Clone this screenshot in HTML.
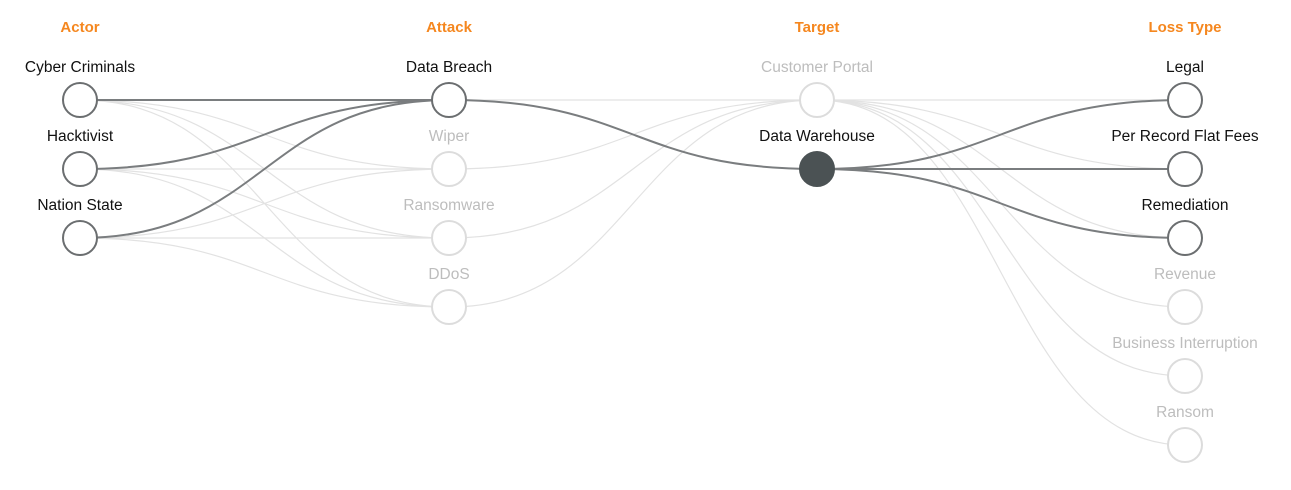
<!DOCTYPE html>
<html><head><meta charset="utf-8"><style>
html,body{margin:0;padding:0;background:#fff;}
svg{display:block;font-family:"Liberation Sans",sans-serif;}
</style></head><body>
<svg id="chart" width="1291" height="490"></svg>
<script>
const columns = ["Actor","Attack","Target","Loss Type"];
const actorNodes = ["Cyber Criminals","Hacktivist","Nation State"];
const attackNodes = ["Data Breach","Wiper","Ransomware","DDoS"];
const targetNodes = ["Customer Portal","Data Warehouse"];
const lossNodes = ["Legal","Per Record Flat Fees","Remediation","Revenue","Business Interruption","Ransom"];
const activeNodes = ["Cyber Criminals","Hacktivist","Nation State","Data Breach","Data Warehouse","Legal","Per Record Flat Fees","Remediation"];
const selectedNode = "Data Warehouse";
// links: [sourceColumn, sourceIndex, targetIndex, highlighted]
const linkSources = [0,0,0,0, 0,0,0,0, 0,0,0,0, 1,1,1,1,1, 2,2,2,2,2,2, 2,2,2];
const linkFrom =    [0,0,0,0, 1,1,1,1, 2,2,2,2, 0,1,2,3,0, 0,0,0,0,0,0, 1,1,1];
const linkTo =      [0,1,2,3, 0,1,2,3, 0,1,2,3, 0,0,0,0,1, 0,1,2,3,4,5, 0,1,2];
const linkHot =     [1,0,0,0, 1,0,0,0, 1,0,0,0, 0,0,0,0,1, 0,0,0,0,0,0, 1,1,1];

const svg = document.getElementById('chart');
const NS = 'http://www.w3.org/2000/svg';
const colX = [80,449,817,1185];
const y0 = 100, step = 69, R = 17;
const nodeSets = [actorNodes, attackNodes, targetNodes, lossNodes];
const xScale = c => colX[c];
const yScale = i => y0 + i*step;

const gLinks = document.createElementNS(NS,'g');


svg.appendChild(gLinks);
const order = [...linkHot.keys()].sort((a,b)=>linkHot[a]-linkHot[b]);
order.forEach(k=>{
  const c = linkSources[k];
  const x1 = xScale(c), x2 = xScale(c+1);
  const ya = yScale(linkFrom[k]), yb = yScale(linkTo[k]);
  const mx = (x1+x2)/2;
  const p = document.createElementNS(NS,'path');
  p.setAttribute('d',`M${x1},${ya} C${mx},${ya} ${mx},${yb} ${x2},${yb}`);
  p.setAttribute('fill','none');
  p.setAttribute('stroke', linkHot[k] ? '#7a7d7f' : '#e2e2e2');
  p.setAttribute('stroke-width', linkHot[k] ? 2 : 1.2);
  
  
  gLinks.appendChild(p);
});

columns.forEach((h,c)=>{
  const t = document.createElementNS(NS,'text');
  t.setAttribute('x',xScale(c)); t.setAttribute('y',32);
  t.setAttribute('text-anchor','middle');
  t.setAttribute('font-size','15'); t.setAttribute('font-weight','bold');
  t.setAttribute('fill','#f5871f');
  t.textContent = h;
  
  
  svg.appendChild(t);
  nodeSets[c].forEach((n,i)=>{
    const active = activeNodes.includes(n), sel = n===selectedNode;
    const slug = n.toLowerCase().replace(/ /g,'-');
    const circ = document.createElementNS(NS,'circle');
    circ.setAttribute('cx',xScale(c)); circ.setAttribute('cy',yScale(i)); circ.setAttribute('r',R);
    circ.setAttribute('fill', sel ? '#4b5254' : '#fff');
    circ.setAttribute('stroke', sel ? '#4b5254' : (active ? '#6b6e70' : '#dcdcdc'));
    circ.setAttribute('stroke-width', 2);
    
    
    svg.appendChild(circ);
    const lt = document.createElementNS(NS,'text');
    lt.setAttribute('x',xScale(c)); lt.setAttribute('y',yScale(i)-28);
    lt.setAttribute('text-anchor','middle'); lt.setAttribute('font-size','15.5');
    lt.setAttribute('fill', active ? '#111' : '#bdbdbd');
    lt.textContent = n;
    
    
    svg.appendChild(lt);
  });
});
</script>
</body></html>
